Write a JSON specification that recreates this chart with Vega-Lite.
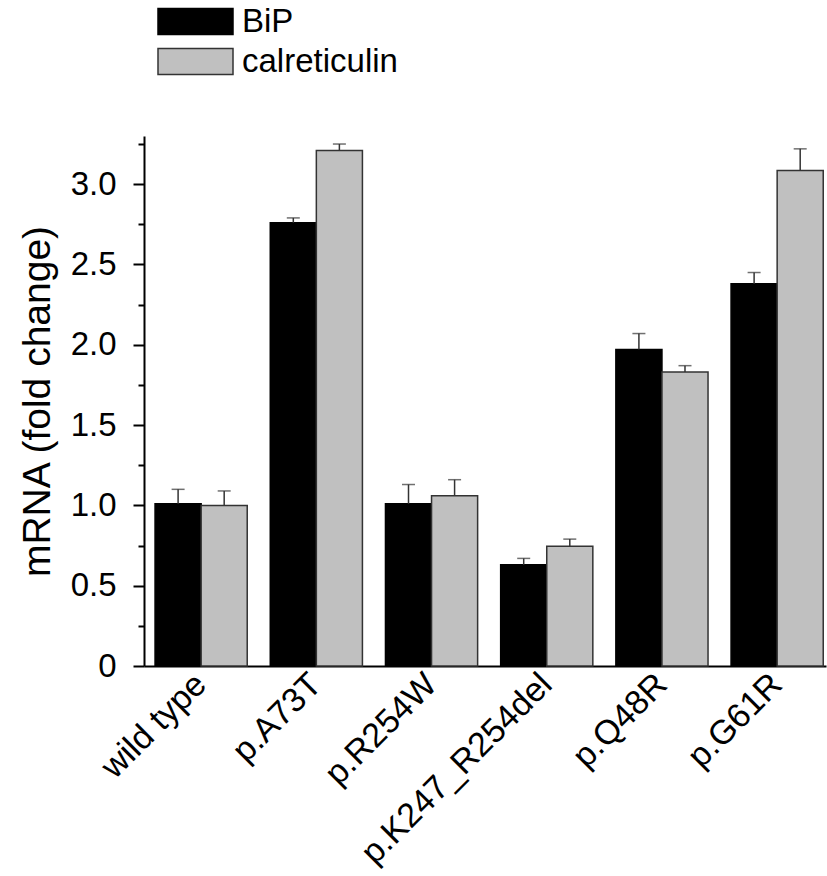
{
  "$schema": "https://vega.github.io/schema/vega-lite/v6.json",
  "autosize": "none",
  "padding": {"left": 144, "top": 136, "right": 1, "bottom": 210},
  "width": 682,
  "height": 530,
  "background": "white",
  "config": {
    "view": {"stroke": null},
    "font": "Liberation Sans",
    "axis": {"grid": false, "domainColor": "black", "tickColor": "black", "labelColor": "black", "titleColor": "black"}
  },
  "data": {
    "values": [
      {"group": "wild type", "series": "BiP", "value": 1.01, "hi": 1.10},
      {"group": "wild type", "series": "calreticulin", "value": 1.00, "hi": 1.09},
      {"group": "p.A73T", "series": "BiP", "value": 2.76, "hi": 2.79},
      {"group": "p.A73T", "series": "calreticulin", "value": 3.21, "hi": 3.25},
      {"group": "p.R254W", "series": "BiP", "value": 1.01, "hi": 1.13},
      {"group": "p.R254W", "series": "calreticulin", "value": 1.06, "hi": 1.16},
      {"group": "p.K247_R254del", "series": "BiP", "value": 0.63, "hi": 0.67},
      {"group": "p.K247_R254del", "series": "calreticulin", "value": 0.745, "hi": 0.79},
      {"group": "p.Q48R", "series": "BiP", "value": 1.97, "hi": 2.07},
      {"group": "p.Q48R", "series": "calreticulin", "value": 1.83, "hi": 1.87},
      {"group": "p.G61R", "series": "BiP", "value": 2.38, "hi": 2.45},
      {"group": "p.G61R", "series": "calreticulin", "value": 3.085, "hi": 3.22}
    ]
  },
  "encoding": {
    "x": {
      "field": "group", "type": "nominal", "sort": null,
      "scale": {"paddingInner": 0.2, "paddingOuter": 0.06, "align": 0.8},
      "axis": {
        "title": null, "ticks": false, "domainWidth": 2,
        "labelAngle": -45, "labelAlign": "right", "labelBaseline": "middle",
        "labelFontSize": 34, "labelPadding": 13, "labelLimit": 400
      }
    },
    "xOffset": {"field": "series", "type": "nominal", "scale": {"paddingInner": 0, "paddingOuter": 0}}
  },
  "layer": [
    {
      "mark": {"type": "bar", "strokeWidth": 1.5},
      "encoding": {
        "y": {
          "field": "value", "type": "quantitative",
          "scale": {"domain": [0, 3.3], "nice": false},
          "axis": {
            "title": "mRNA (fold change)", "titleFontSize": 39, "titleFontWeight": "normal", "titlePadding": 13,
            "values": [0, 0.25, 0.5, 0.75, 1, 1.25, 1.5, 1.75, 2, 2.25, 2.5, 2.75, 3, 3.25],
            "labelExpr": "abs(datum.value*2 - round(datum.value*2)) > 0.001 ? '' : (datum.value === 0 ? '0' : format(datum.value, '.1f'))",
            "labelFontSize": 33, "labelPadding": 17,
            "domainWidth": 2, "tickWidth": 2,
            "tickSize": {"condition": {"test": "abs(datum.value*2 - round(datum.value*2)) > 0.001", "value": 6}, "value": 11}
          }
        },
        "fill": {
          "field": "series", "type": "nominal",
          "scale": {"domain": ["BiP", "calreticulin"], "range": ["#000000", "#c0c0c0"]},
          "legend": {
            "title": null, "orient": "none", "legendX": 35, "legendY": -131,
            "symbolType": "M-3,-1.04H3V1.04H-3Z", "symbolSize": 625, "symbolStrokeWidth": 1.5,
            "labelFontSize": 33, "labelOffset": 30, "rowPadding": 6, "labelColor": "black"
          }
        },
        "stroke": {
          "field": "series", "type": "nominal",
          "scale": {"domain": ["BiP", "calreticulin"], "range": ["#000000", "#333333"]},
          "legend": null
        }
      }
    },
    {
      "mark": {"type": "rule", "color": "#333333", "strokeWidth": 1.5},
      "encoding": {
        "y": {"field": "value", "type": "quantitative"},
        "y2": {"field": "hi"}
      }
    },
    {
      "mark": {"type": "tick", "color": "#333333", "thickness": 1.5, "size": 13, "orient": "horizontal"},
      "encoding": {
        "y": {"field": "hi", "type": "quantitative"}
      }
    }
  ]
}
